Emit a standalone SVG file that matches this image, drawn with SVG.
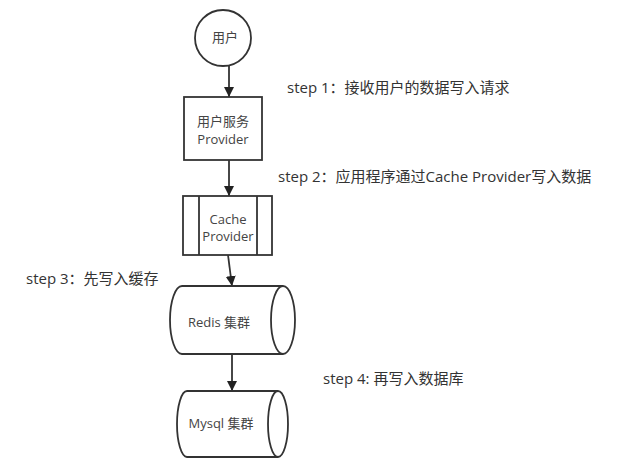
<svg xmlns="http://www.w3.org/2000/svg" width="642" height="468" viewBox="0 0 642 468">
<style>
.shape{fill:#fff;stroke:#333;stroke-width:1.8}
.edge{fill:none;stroke:#333;stroke-width:1.8}
.node-text{font-family:"Open Sans","Noto Sans CJK SC",sans-serif;font-size:13px;fill:#444;text-anchor:middle;dominant-baseline:central}
.step{font-family:"Open Sans","Noto Sans CJK SC",sans-serif;font-size:15px;fill:#333;dominant-baseline:central}
</style>
<defs>
<marker id="arrow" markerUnits="userSpaceOnUse" markerWidth="10" markerHeight="12" refX="10" refY="5" orient="auto" viewBox="0 0 10 10">
<path d="M0,0 L10,5 L0,10 Z" fill="#222"/>
</marker>
</defs>
<rect width="642" height="468" fill="#fff"/>
<g id="connectors">
<line class="edge" x1="229" y1="65" x2="229" y2="97" marker-end="url(#arrow)"/>
<line class="edge" x1="229" y1="160" x2="229" y2="196" marker-end="url(#arrow)"/>
<line class="edge" x1="228" y1="255" x2="232" y2="286" marker-end="url(#arrow)"/>
<line class="edge" x1="232" y1="354" x2="232" y2="391" marker-end="url(#arrow)"/>
</g>
<g id="user">
<circle class="shape" cx="223" cy="38" r="28"/>
<text class="node-text" x="225" y="37" font-size="11">用户</text>
</g>
<g id="user-service">
<rect class="shape" x="184" y="97" width="78" height="63"/>
<text class="node-text" x="223" y="121">用户服务</text>
<text class="node-text" x="223" y="139">Provider</text>
</g>
<g id="cache-provider">
<rect class="shape" x="183" y="196" width="89" height="59"/>
<line class="edge" x1="199" y1="196" x2="199" y2="255"/>
<line class="edge" x1="257" y1="196" x2="257" y2="255"/>
<text class="node-text" x="228" y="219">Cache</text>
<text class="node-text" x="228" y="236">Provider</text>
</g>
<g id="redis">
<path class="shape" d="M182,286 L283,286 A12,34 0 0 1 283,354 L182,354 A12,34 0 0 1 182,286 Z"/>
<path class="edge" d="M283,286 A12,34 0 0 0 283,354"/>
<text class="node-text" x="219" y="322">Redis 集群</text>
</g>
<g id="mysql">
<path class="shape" d="M187,391 L278,391 A10,33 0 0 1 278,457 L187,457 A10,33 0 0 1 187,391 Z"/>
<path class="edge" d="M278,391 A10,33 0 0 0 278,457"/>
<text class="node-text" x="221" y="423">Mysql 集群</text>
</g>
<g id="labels">
<text class="step" x="287" y="87">step 1：接收用户的数据写入请求</text>
<text class="step" x="278" y="176">step 2：应用程序通过Cache Provider写入数据</text>
<text class="step" x="26" y="278">step 3：先写入缓存</text>
<text class="step" x="323" y="378">step 4: 再写入数据库</text>
</g>
</svg>
